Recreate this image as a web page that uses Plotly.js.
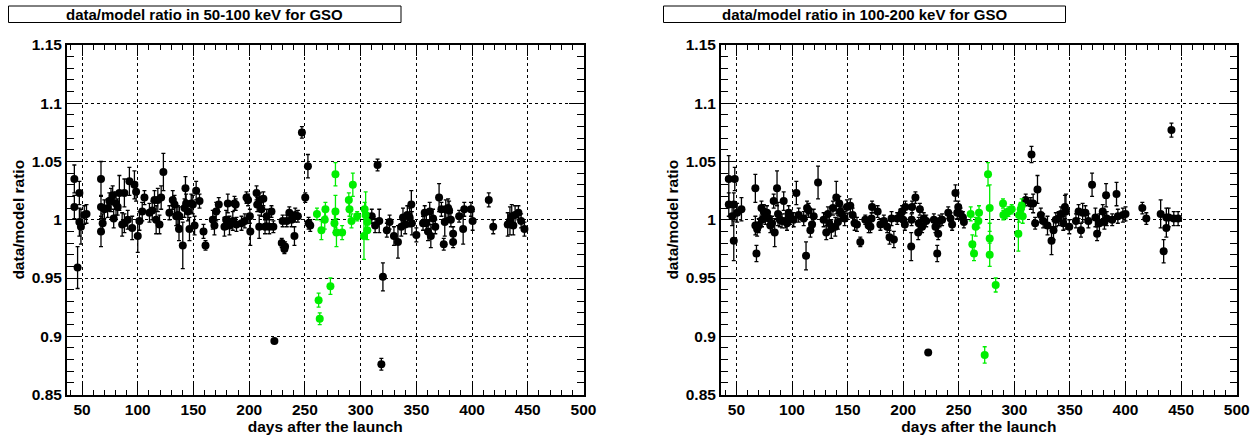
<!DOCTYPE html>
<html>
<head>
<meta charset="utf-8">
<script src="https://cdn.plot.ly/plotly-3.0.1.min.js"></script>
<style>html,body{margin:0;padding:0;background:#fff;}#plot{width:1256px;height:438px;}</style>
</head>
<body>
<div id="plot"></div>
<script>
// ---------- 50-100 keV (left) ----------
const daysA = [43.1,43.1,46,47.6,47.6,49,52,54,67,67,67,68.5,70,73,74.5,76,77.5,78.4,80.5,82,83.5,86,88,88,91,92.5,95,97,98.5,100,101.5,104,106,110.5,113,115,116.5,118,119.5,121,123,128.4,131.4,133,134.5,136,137,137.4,140.4,142,142.8,143.4,145,146.4,148,149.4,151,152.4,155.4,159,160.8,167.3,168.8,170.4,172.7,177.8,179.3,180.8,182.3,185.3,186.8,187.9,188.6,193.1,196.1,197.6,199,200.6,201,206.6,207.2,209,209.6,211,212.7,214.2,215.7,218,220,221.7,222.6,229.2,230,231.6,232.2,233.7,236,238,240.6,241.3,243.7,247.3,250.3,252.7,253.3,254.8,310,313,315.2,316.7,318.6,320,323.5,326,329.9,333.5,336.5,338,340,341.9,344,345.5,346,350,356,357.5,359,360.5,362,363,365,367,370.4,372.5,374.6,375.5,376.4,378.5,379.4,381,383,383,388.4,392,393,399,400.5,415,419,432,434,435.6,437,438.6,441.6,444,447];
const ratioA = [1.035,1.011,0.959,1.023,0.998,0.994,1.004,1.005,1.035,1.011,0.990,0.997,1.009,1.010,1.016,1.017,1.021,1.001,1.014,1.011,1.023,0.996,1.023,0.997,1.000,1.033,0.993,1.030,1.024,0.986,0.999,1.007,1.019,1.006,1.008,1.017,1.000,1.017,0.996,1.019,1.041,1.006,1.017,1.013,1.003,1.004,0.992,1.003,0.978,1.010,1.027,1.014,1.007,0.992,1.014,1.013,0.995,1.025,1.016,0.990,0.978,1.000,0.995,1.007,1.013,0.994,1.000,1.014,0.995,0.999,1.014,1.013,0.996,0.997,0.999,1.019,1.017,1.003,0.990,1.023,1.013,0.994,1.017,1.009,1.018,0.994,1.003,0.994,1.007,0.994,0.896,0.980,0.999,0.975,0.977,0.999,1.006,1.000,0.986,1.004,1.003,1.075,1.019,1.046,0.997,0.995,1.003,0.995,1.047,0.999,0.876,0.951,0.991,0.998,0.986,0.981,0.994,1.002,0.996,1.004,1.002,1.013,0.997,0.987,0.997,1.006,0.997,0.990,1.007,0.986,1.001,0.994,1.019,1.009,0.979,0.998,1.009,1.010,1.008,1.000,0.988,0.981,1.003,0.992,1.009,1.009,0.999,1.017,0.994,0.996,0.999,1.003,0.995,1.004,1.006,0.999,0.992];
const errA = [0.012,0.010,0.018,0.010,0.012,0.015,0.008,0.008,0.015,0.010,0.013,0.008,0.008,0.008,0.007,0.010,0.008,0.008,0.010,0.007,0.015,0.010,0.012,0.008,0.008,0.012,0.010,0.012,0.008,0.014,0.008,0.008,0.006,0.008,0.008,0.008,0.012,0.010,0.008,0.010,0.016,0.006,0.008,0.008,0.008,0.008,0.010,0.008,0.020,0.008,0.010,0.008,0.008,0.010,0.008,0.008,0.008,0.008,0.006,0.006,0.004,0.008,0.008,0.008,0.006,0.008,0.008,0.008,0.008,0.008,0.006,0.005,0.006,0.006,0.006,0.005,0.005,0.006,0.012,0.006,0.006,0.010,0.006,0.006,0.006,0.006,0.006,0.006,0.005,0.005,0.002,0.004,0.005,0.004,0.004,0.005,0.005,0.006,0.008,0.006,0.005,0.005,0.004,0.010,0.005,0.005,0.006,0.006,0.005,0.010,0.005,0.012,0.006,0.006,0.008,0.014,0.008,0.008,0.008,0.008,0.008,0.012,0.010,0.006,0.006,0.006,0.008,0.008,0.008,0.010,0.008,0.006,0.012,0.006,0.005,0.012,0.008,0.008,0.008,0.006,0.006,0.005,0.005,0.013,0.006,0.006,0.008,0.006,0.006,0.010,0.012,0.010,0.008,0.008,0.006,0.006,0.006];
const daysAg = [260.8,262.3,263.3,264.8,267.8,268.4,272.9,276.5,277.4,277.4,278.3,283.4,289.4,290.0,291.8,293.0,296.9,303.0,303.6,304.5,306.0,306.0];
const ratioAg = [1.005,0.931,0.915,0.991,1.000,1.009,0.943,0.997,1.039,1.007,0.989,0.989,1.017,1.009,0.999,1.030,1.003,0.986,1.009,1.004,0.998,0.991];
const errAg = [0.005,0.006,0.005,0.008,0.008,0.006,0.007,0.008,0.010,0.014,0.012,0.006,0.006,0.006,0.006,0.010,0.004,0.020,0.006,0.020,0.008,0.008];

// ---------- 100-200 keV (right) ----------
const daysB = [43.1,43.1,46.1,47.6,48.5,47.6,50.6,54.5,67,67,68,68.6,70,72.5,73,74.6,76,77.5,79,80.5,82,83.5,84.4,86.5,87.4,89,91,92.5,94,95.5,97,98.5,101.5,103.9,106,110.5,112.6,113.5,115,116.5,118,119.5,123.4,128.4,130.8,132.3,133.5,135.3,136.8,138.9,139.8,141.3,142.5,143.4,144.9,147.3,149.4,152.4,154.5,156.3,158.4,161.4,165.9,168.9,170.5,171.5,172,177,179.5,182.6,185.6,187.7,189.5,191.6,194.6,197.6,199,200,201.5,202,207.2,207.5,208,211,213.5,214,215,217,218.5,220.7,222.5,227.6,229,230.6,231.5,232.7,235,240.5,242.6,244,247,248.6,249.5,251.6,253.7,254.6,310.2,314.8,315.4,316.9,318.7,320.8,323.8,325.9,329.8,333.4,335.2,337.3,339.8,341.9,344,345.5,346.4,349.4,355.4,357.8,359.9,361.4,363.9,366.6,369.9,372.9,374.4,376.5,379.5,381,382.5,383.1,388,391.9,393.1,397.6,400,415.1,418.7,431.6,434.3,436.7,436.7,438.8,441.3,443.4,447.3];
const ratioB = [1.035,1.013,1.003,1.013,1.035,0.982,1.006,1.009,1.027,0.995,0.971,0.992,0.995,1.010,1.000,1.007,1.002,1.006,1.001,0.995,0.997,1.016,0.989,1.027,1.005,1.000,0.999,1.016,0.999,0.997,1.006,1.002,1.000,1.023,1.004,1.001,0.969,1.010,1.008,0.991,0.996,1.003,1.032,1.000,0.989,1.005,0.997,0.992,1.010,0.994,1.019,0.998,1.014,1.007,1.005,1.001,1.011,1.012,1.004,0.997,0.996,0.981,1.000,0.995,0.994,1.001,1.011,1.007,0.996,0.999,0.994,0.985,1.001,0.983,1.001,1.004,1.007,1.000,0.996,1.011,0.977,1.000,1.011,1.019,0.989,0.997,1.009,0.994,1.001,0.999,0.886,1.000,0.994,0.971,0.988,0.999,1.000,1.006,1.001,0.996,1.023,1.006,1.011,1.005,1.002,0.998,1.017,1.014,1.056,1.014,0.997,1.026,1.004,0.999,0.995,0.982,0.991,1.000,1.001,1.005,0.997,1.011,1.007,0.994,0.999,1.007,0.991,1.006,1.006,0.999,1.030,1.002,0.988,0.997,1.007,0.998,1.021,1.001,1.000,1.022,1.003,1.004,1.005,1.010,1.001,1.005,0.973,0.993,1.002,1.002,1.077,1.001,1.001];
const errB = [0.020,0.010,0.008,0.010,0.010,0.017,0.008,0.010,0.012,0.008,0.007,0.006,0.006,0.006,0.006,0.006,0.006,0.006,0.006,0.006,0.006,0.006,0.012,0.015,0.010,0.006,0.006,0.008,0.006,0.006,0.006,0.006,0.006,0.010,0.006,0.006,0.012,0.006,0.006,0.006,0.006,0.006,0.014,0.006,0.006,0.006,0.008,0.008,0.006,0.008,0.014,0.006,0.006,0.006,0.006,0.006,0.006,0.006,0.006,0.006,0.006,0.004,0.004,0.006,0.005,0.005,0.005,0.005,0.005,0.005,0.005,0.006,0.006,0.007,0.005,0.005,0.005,0.005,0.005,0.005,0.012,0.005,0.005,0.005,0.006,0.005,0.005,0.005,0.005,0.005,0.002,0.005,0.005,0.007,0.005,0.005,0.005,0.005,0.005,0.005,0.007,0.005,0.005,0.005,0.005,0.005,0.005,0.005,0.007,0.008,0.005,0.012,0.006,0.006,0.008,0.012,0.008,0.006,0.006,0.006,0.006,0.010,0.015,0.006,0.006,0.006,0.006,0.008,0.006,0.006,0.010,0.008,0.006,0.008,0.006,0.006,0.010,0.006,0.005,0.010,0.006,0.006,0.006,0.005,0.005,0.012,0.010,0.008,0.008,0.008,0.006,0.006,0.006];
const daysBg = [260.7,262.2,263.7,265.2,267.6,268.2,273.3,276.3,277.8,277.8,277.8,283.2,289.8,290.1,292.2,294.6,297.6,303.6,304.2,305.7,306.6,307.5];
const ratioBg = [1.005,0.979,0.971,0.994,0.999,1.006,0.884,1.039,1.010,0.984,0.970,0.944,1.014,1.004,1.005,1.007,1.009,0.988,1.004,1.009,1.012,1.003];
const errBg = [0.006,0.008,0.006,0.008,0.006,0.006,0.007,0.010,0.020,0.013,0.010,0.006,0.004,0.004,0.004,0.004,0.004,0.015,0.006,0.006,0.006,0.006];

const titles = ['data/model ratio in 50-100 keV for GSO','data/model ratio in 100-200 keV for GSO'];
const yTickVals = [0.85,0.9,0.95,1,1.05,1.1,1.15];
const yTickText = ['0.85','0.9','0.95','1','1.05','1.1','1.15'];
const xTickVals = [50,100,150,200,250,300,350,400,450,500];
const xTitle = 'days after the launch';
const yTitle = 'data/model ratio';

const W = 1256, H = 438;
const BLACK = '#000000', GREEN = '#00ee00';

function series(x, y, e, color, xa, ya) {
  return {
    x: x, y: y, type: 'scatter', mode: 'markers', xaxis: xa, yaxis: ya,
    marker: {symbol: 'circle', size: 8, color: color},
    error_y: {type: 'data', array: e, visible: true, color: color, thickness: 1.3, width: 2},
    hoverinfo: 'x+y', showlegend: false
  };
}

const data = [
  series(daysA, ratioA, errA, BLACK, 'x', 'y'),
  series(daysAg, ratioAg, errAg, GREEN, 'x', 'y'),
  series(daysB, ratioB, errB, BLACK, 'x2', 'y2'),
  series(daysBg, ratioBg, errBg, GREEN, 'x2', 'y2')
];

const tickFont = {family: 'Liberation Sans, Arial, sans-serif', size: 15.5, color: '#000', weight: 'bold'};
const titleFont = {family: 'Liberation Sans, Arial, sans-serif', size: 15.5, color: '#000', weight: 'bold'};
const yDom = [1 - 394.5/H, 1 - 45/H];

function xAxis(dom, r, anchor) {
  return {
    domain: dom, range: r, anchor: anchor,
    tickmode: 'array', tickvals: xTickVals, ticktext: xTickVals.map(String),
    ticks: 'inside', ticklen: 11, tickwidth: 1, tickcolor: '#000',
    minor: {dtick: 10, tick0: 0, ticks: 'inside', ticklen: 5, tickwidth: 1, tickcolor: '#000', showgrid: false},
    showline: true, linecolor: '#000', linewidth: 2, mirror: 'allticks',
    showgrid: true, gridcolor: '#000', griddash: 'dot', gridwidth: 1,
    zeroline: false, tickfont: tickFont,
    title: {text: xTitle, font: titleFont, standoff: 2},
    automargin: false
  };
}
function yAxis(anchor) {
  return {
    domain: yDom, range: [0.85, 1.15], anchor: anchor,
    tickmode: 'array', tickvals: yTickVals, ticktext: yTickText,
    ticks: 'inside', ticklen: 15, tickwidth: 1, tickcolor: '#000',
    minor: {dtick: 0.01, tick0: 0, ticks: 'inside', ticklen: 7, tickwidth: 1, tickcolor: '#000', showgrid: false},
    showline: true, linecolor: '#000', linewidth: 2, mirror: 'allticks',
    showgrid: true, gridcolor: '#000', griddash: 'dot', gridwidth: 1,
    zeroline: false, tickfont: tickFont,
    title: {text: yTitle, font: titleFont, standoff: 3},
    automargin: false
  };
}

const boxes = [[8.5, 401], [663.5, 1065.5]];
const shapes = boxes.map(b => ({
  type: 'rect', xref: 'paper', yref: 'paper',
  x0: b[0]/W, x1: b[1]/W, y0: 1 - 22.5/H, y1: 1 - 6/H,
  line: {color: '#000', width: 1}, fillcolor: '#fff', layer: 'above'
}));
const annotations = boxes.map((b, i) => ({
  xref: 'paper', yref: 'paper', x: (b[0] + b[1]) / 2 / W, y: 1 - 14.3/H,
  xanchor: 'center', yanchor: 'middle', showarrow: false,
  text: titles[i], font: {family: 'Liberation Sans, Arial, sans-serif', size: 15, color: '#000', weight: 'bold'}
}));

const layout = {
  width: W, height: H, autosize: false,
  margin: {l: 0, r: 0, t: 0, b: 0, pad: 0},
  paper_bgcolor: '#fff', plot_bgcolor: '#fff',
  showlegend: false,
  xaxis: xAxis([67/W, 583.5/W], [36.5, 500], 'y'),
  yaxis: yAxis('x'),
  xaxis2: xAxis([721/W, 1236.7/W], [36.1, 500], 'y2'),
  yaxis2: yAxis('x2'),
  shapes: shapes,
  annotations: annotations
};

Plotly.newPlot('plot', data, layout, {displayModeBar: false, staticPlot: true});
</script>
</body>
</html>
